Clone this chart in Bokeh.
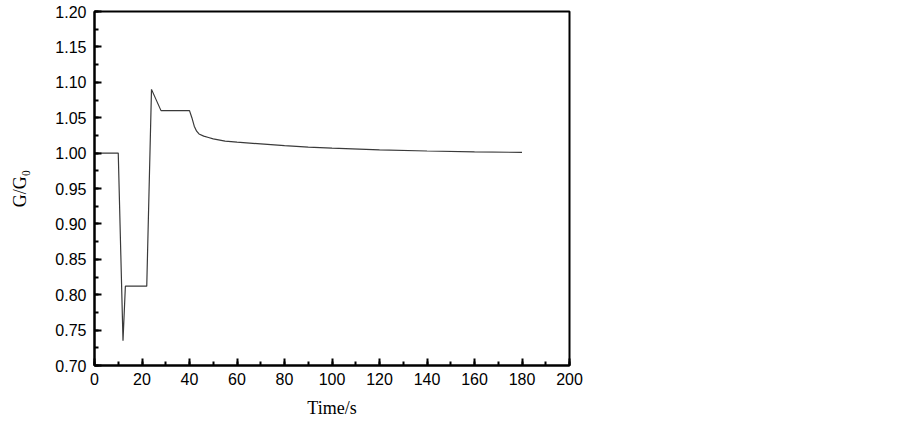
from bokeh.plotting import figure
from bokeh.embed import file_html
from bokeh.resources import INLINE
from bokeh.models import FixedTicker, Range1d

time_s = [0, 10, 12, 13, 22, 24, 28, 40, 41, 42, 43, 44, 46, 48, 50, 55, 60, 70, 80,
          90, 100, 120, 140, 160, 180]
g_ratio = [1.000, 1.000, 0.735, 0.812, 0.812, 1.090, 1.060, 1.060, 1.050, 1.038, 1.031,
           1.027, 1.024, 1.022, 1.020, 1.017, 1.0155, 1.013, 1.0105, 1.0085, 1.007,
           1.0045, 1.003, 1.0018, 1.001]

x_ticks = [0, 20, 40, 60, 80, 100, 120, 140, 160, 180, 200]
y_ticks = [0.70, 0.75, 0.80, 0.85, 0.90, 0.95, 1.00, 1.05, 1.10, 1.15, 1.20]

p = figure(width=903, height=422, output_backend="svg", toolbar_location=None,
           x_range=Range1d(0, 200), y_range=Range1d(0.70, 1.20),
           min_border_left=94, min_border_right=334, min_border_top=11,
           min_border_bottom=57)

p.line(time_s, g_ratio, line_color="#3a3a3a", line_width=1.2)

p.xgrid.visible = False
p.ygrid.visible = False
p.outline_line_color = "black"
p.outline_line_width = 2
p.outline_line_alpha = 1

for ax in (p.xaxis[0], p.yaxis[0]):
    ax.axis_line_width = 2
    ax.axis_line_color = "black"
    ax.major_tick_in = 7
    ax.major_tick_out = 0
    ax.minor_tick_in = 4
    ax.minor_tick_out = 0
    ax.major_tick_line_width = 2
    ax.minor_tick_line_width = 2
    ax.major_label_text_font = "Liberation Sans"
    ax.major_label_text_font_size = "16px"
    ax.major_label_text_color = "black"
    ax.axis_label_text_font = "Liberation Serif"
    ax.axis_label_text_font_size = "18px"
    ax.axis_label_text_font_style = "normal"
    ax.axis_label_text_color = "black"

p.xaxis[0].ticker = FixedTicker(ticks=x_ticks, minor_ticks=list(range(0, 201, 10)))
p.yaxis[0].ticker = FixedTicker(ticks=y_ticks,
                                minor_ticks=[0.70 + 0.025 * i for i in range(21)])
p.yaxis[0].major_label_overrides = {v: f"{v:.2f}" for v in y_ticks}
p.xaxis[0].axis_label = "Time/s"
p.yaxis[0].axis_label = "G/G₀"
p.xaxis[0].major_label_standoff = 7
p.yaxis[0].major_label_standoff = 8
p.xaxis[0].axis_label_standoff = 10
p.yaxis[0].axis_label_standoff = 22

open("out.html", "w").write(file_html(p, INLINE))
